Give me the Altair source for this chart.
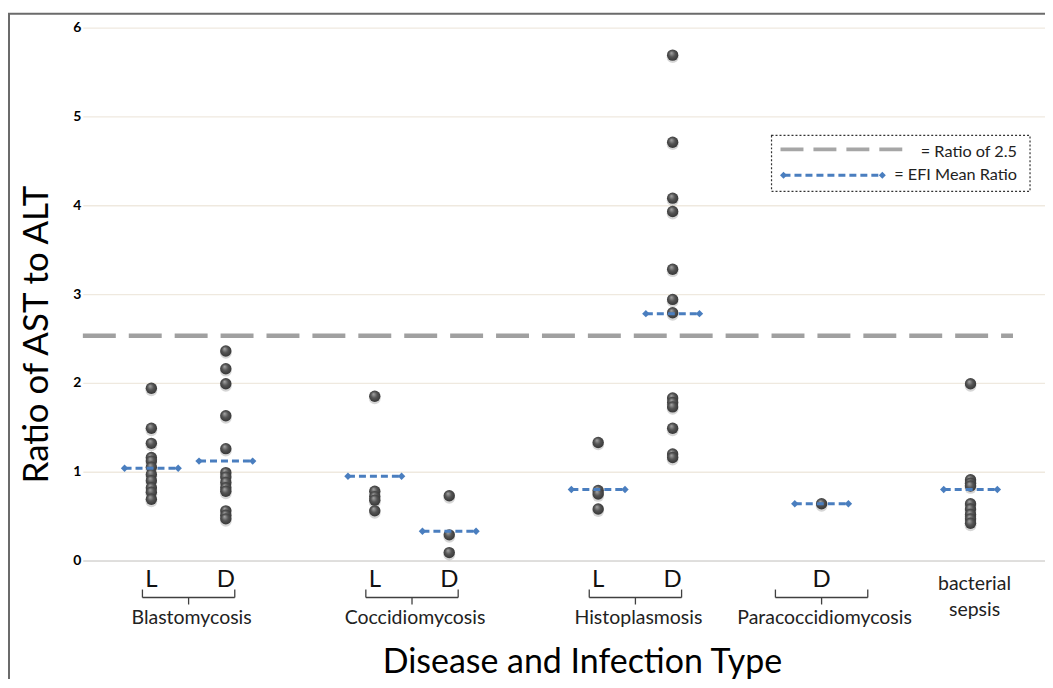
import altair as alt
import pandas as pd

# ---------------- data ----------------
groups = ["Blastomycosis", "Blastomycosis", "Coccidiomycosis", "Coccidiomycosis",
          "Histoplasmosis", "Histoplasmosis", "Paracoccidiomycosis", "bacterial sepsis"]
forms = ["L", "D", "L", "D", "L", "D", "D", ""]
slots = [1, 2, 4, 5, 7, 8, 10, 12]

blasto_L = [1.94, 1.49, 1.32, 1.16, 1.12, 1.05, 0.97, 0.90, 0.82, 0.77, 0.69]
blasto_D = [2.36, 2.16, 1.99, 1.63, 1.26, 0.99, 0.94, 0.88, 0.82, 0.78, 0.56, 0.51, 0.47]
cocci_L = [1.85, 0.78, 0.72, 0.68, 0.56]
cocci_D = [0.73, 0.29, 0.09]
histo_L = [1.33, 0.79, 0.75, 0.58]
histo_D = [5.69, 4.71, 4.08, 3.93, 3.28, 2.94, 2.79, 1.83, 1.78, 1.73, 1.49, 1.20, 1.16]
para_D = [0.64]
sepsis = [1.99, 0.91, 0.87, 0.84, 0.64, 0.58, 0.52, 0.47, 0.42]
series = [blasto_L, blasto_D, cocci_L, cocci_D, histo_L, histo_D, para_D, sepsis]

efi_mean = [1.04, 1.12, 0.95, 0.33, 0.80, 2.78, 0.64, 0.80]
ratio_line = 2.53

bracket_names = ["Blastomycosis", "Coccidiomycosis", "Histoplasmosis", "Paracoccidiomycosis"]
bracket_centers = [1.5, 4.5, 7.5, 10]

# ---------------- tables ----------------
pts = pd.DataFrame([{"x": s, "y": v, "group": g}
                    for s, g, vals in zip(slots, groups, series) for v in vals])
HW = 0.36
means = pd.DataFrame({"x": [s - HW for s in slots], "x2": [s + HW for s in slots],
                      "y": efi_mean})
mean_ends = pd.DataFrame({"x": [s - HW for s in slots] + [s + HW for s in slots],
                          "y": efi_mean + efi_mean})
forms_df = pd.DataFrame({"x": slots, "form": forms})
BHW = 0.62
brackets = pd.DataFrame({"x": [c - BHW for c in bracket_centers],
                         "x2": [c + BHW for c in bracket_centers],
                         "c": bracket_centers, "name": bracket_names})
bracket_ends = pd.DataFrame({"x": [c - BHW for c in bracket_centers] + [c + BHW for c in bracket_centers]})
sepsis_df = pd.DataFrame({"x": [slots[-1]], "label": ["bacterial\nsepsis"]})
ratio_df = pd.DataFrame({"x": [0.08], "x2": [12.57], "y": [ratio_line]})
one = pd.DataFrame({"a": [0]})

FONT = "Lato"
W, H = 964, 534
XS = alt.Scale(domain=[0.08, 13.0], nice=False, zero=False)
YS = alt.Scale(domain=[0, 6], nice=False, zero=True)
X_AX = alt.Axis(labels=False, ticks=False, grid=False, domainColor="#d9d9d9",
                domainWidth=1.5, title="Disease and Infection Type", titleFont=FONT,
                titleFontSize=34, titleFontWeight="normal", titleColor="#000000",
                titleX=500, titleY=102, titleBaseline="middle", titleAlign="center")
Y_AX = alt.Axis(values=[0, 1, 2, 3, 4, 5, 6], format="d", ticks=False, domain=False,
                labelFont=FONT, labelFontSize=14, labelFontWeight="bold",
                labelColor="#000000", labelPadding=2, gridColor="#efe9df", gridWidth=1.3,
                title="Ratio of AST to ALT", titleFont=FONT, titleFontSize=35,
                titleFontWeight="normal", titleColor="#000000", titleAngle=270,
                titleX=-46, titleY=307, titleAlign="center", titleBaseline="middle")


def X(f):
    return alt.X(f, type="quantitative", scale=XS, axis=X_AX)


def Y(f):
    return alt.Y(f, type="quantitative", scale=YS, axis=Y_AX)


frame = alt.Chart(one).mark_rect(fillOpacity=0, stroke="#6b6b6b", strokeWidth=2).encode(
    x=alt.value(-74), x2=alt.value(1300), y=alt.value(-14), y2=alt.value(900))

ratio = alt.Chart(ratio_df).mark_rule(color="#a0a0a0", strokeWidth=4.5,
                                      strokeDash=[33, 13]).encode(
    x=X("x"), x2="x2", y=Y("y"))

shadow = alt.Chart(pts).mark_point(filled=True, size=140, color="#8a8a8a", opacity=0.35,
                                   yOffset=2).encode(x=X("x"), y=Y("y"))

sphere = alt.RadialGradient(
    gradient="radial", x1=0.38, y1=0.3, r1=0.0, x2=0.5, y2=0.5, r2=0.6,
    stops=[alt.GradientStop(color="#a8a8a8", offset=0),
           alt.GradientStop(color="#555555", offset=0.45),
           alt.GradientStop(color="#2f2f2f", offset=1)])
dots = alt.Chart(pts).mark_point(filled=True, size=130, fill=sphere, opacity=1,
                                 strokeWidth=0).encode(x=X("x"), y=Y("y"))

BLUE = "#4a7ebf"
mean_lines = alt.Chart(means).mark_rule(color=BLUE, strokeWidth=3, strokeDash=[7, 4]).encode(
    x=X("x"), x2="x2", y=Y("y"))
mean_dia = alt.Chart(mean_ends).mark_point(shape="diamond", filled=True, size=55,
                                           color=BLUE, opacity=1).encode(x=X("x"), y=Y("y"))

form_text = alt.Chart(forms_df).mark_text(font=FONT, fontSize=24, fontWeight="normal",
                                          color="#111111", baseline="alphabetic").encode(
    x=X("x"), y=alt.value(560), text="form:N")

br_h = alt.Chart(brackets).mark_rule(color="#404040", strokeWidth=1.3).encode(
    x=X("x"), x2="x2", y=alt.value(571))
br_end = alt.Chart(bracket_ends).mark_rule(color="#404040", strokeWidth=1.3).encode(
    x=X("x"), y=alt.value(563), y2=alt.value(571))
br_mid = alt.Chart(brackets).mark_rule(color="#404040", strokeWidth=1.3).encode(
    x=X("c"), y=alt.value(571), y2=alt.value(578))
br_text = alt.Chart(brackets).mark_text(font=FONT, fontSize=19.5, color="#222222",
                                        baseline="alphabetic", dx=3).encode(
    x=X("c"), y=alt.value(598), text="name:N")
sep_text = alt.Chart(sepsis_df).mark_text(font=FONT, fontSize=19.5, color="#222222",
                                          baseline="alphabetic", lineBreak="\n",
                                          lineHeight=27, dx=4).encode(
    x=X("x"), y=alt.value(563), text="label:N")

# legend box (annotation)
leg_box = alt.Chart(one).mark_rect(fill="white", stroke="#333333", strokeWidth=1.2,
                                   strokeDash=[2, 2]).encode(
    x=alt.value(690), x2=alt.value(949), y=alt.value(108), y2=alt.value(164))
leg_gray = alt.Chart(one).mark_rule(color="#a6a6a6", strokeWidth=4, strokeDash=[23, 10]).encode(
    x=alt.value(699), x2=alt.value(823), y=alt.value(122))
leg_blue = alt.Chart(one).mark_rule(color=BLUE, strokeWidth=3, strokeDash=[7, 4]).encode(
    x=alt.value(702), x2=alt.value(801), y=alt.value(148))
leg_d1 = alt.Chart(one).mark_point(shape="diamond", filled=True, size=50, color=BLUE,
                                   opacity=1).encode(x=alt.value(702), y=alt.value(148))
leg_d2 = alt.Chart(one).mark_point(shape="diamond", filled=True, size=50, color=BLUE,
                                   opacity=1).encode(x=alt.value(801), y=alt.value(148))
leg_t1 = alt.Chart(one).mark_text(font=FONT, fontSize=16.3, color="#222222", align="right",
                                  baseline="middle", text="= Ratio of 2.5").encode(
    x=alt.value(936), y=alt.value(125))
leg_t2 = alt.Chart(one).mark_text(font=FONT, fontSize=16.3, color="#222222", align="right",
                                  baseline="middle", text="= EFI Mean Ratio").encode(
    x=alt.value(936), y=alt.value(148))

chart = alt.layer(
    frame, ratio, shadow, dots, mean_lines, mean_dia, form_text, br_h, br_end, br_mid,
    br_text, sep_text, leg_box, leg_gray, leg_blue, leg_d1, leg_d2, leg_t1, leg_t2
).properties(
    width=W, height=H,
    autosize=alt.AutoSizeParams(type="none"),
    padding={"left": 75, "top": 19, "right": 0, "bottom": 118},
    background="white",
).configure_view(strokeWidth=0)

chart.save("out.html", embed_options={"renderer": "svg", "actions": False})
